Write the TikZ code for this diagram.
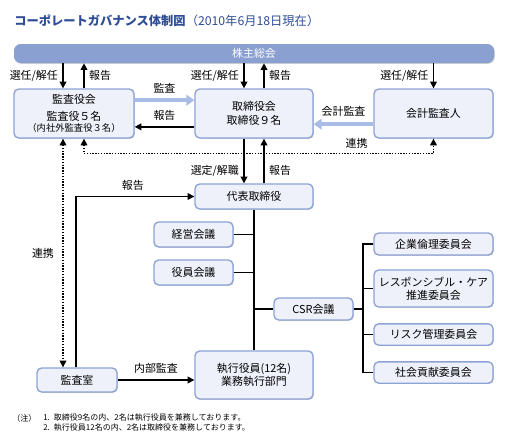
\documentclass[tikz,border=0pt]{standalone}
\usepackage{fontspec}
\setmainfont{Noto Sans CJK JP}
\usetikzlibrary{arrows.meta,shadows}
\definecolor{titleblue}{HTML}{2E4D96}
\definecolor{barblue}{HTML}{8AA0D0}
\definecolor{boxline}{HTML}{8CA2D6}
\definecolor{boxfill}{HTML}{EEF1FA}
\definecolor{auditblue}{HTML}{A8BCE4}
\tikzset{
  box/.style={draw=boxline,fill=boxfill,line width=1pt,rounded corners=3.5pt,align=center,
    drop shadow={shadow xshift=0.6pt,shadow yshift=-0.6pt,opacity=0.3,fill=black!60}},
  conn/.style={line width=1.1pt},
  audit/.style={-{Triangle[length=6pt,width=8pt]},draw=auditblue,line width=2.6pt},
  lk/.style={<->,line width=1pt,dash pattern=on 1pt off 1.1pt},
}
\begin{document}
\begin{tikzpicture}[x=0.75pt,y=-0.75pt,>={Triangle[length=5pt,width=5pt]},font=\fontsize{8.2}{10}\selectfont]
\useasboundingbox (0,0) rectangle (512,440);
% title
\node[anchor=west,inner sep=0pt,text=titleblue,font=\fontsize{9.2}{11}\selectfont] (title) at (14,21)
  {\textbf{コーポレートガバナンス体制図}（2010年6月18日現在）};
\node[fill=barblue,rounded corners=5pt,minimum width=360pt,minimum height=14.25pt,text=white,
  drop shadow={shadow xshift=0.6pt,shadow yshift=-0.6pt,opacity=0.3,fill=black!60}] (kabunushi) at (254,53.5) {株主総会};
% boxes
\node[box,minimum width=90pt,minimum height=36.75pt] (kansa) at (74,113.5)
  {監査役会\\[2.75pt]監査役５名\\[-1.75pt]{\fontsize{7}{8}\selectfont （内社外監査役３名）}};
\node[box,minimum width=88.5pt,minimum height=36.75pt] (tori) at (254,113.5) {取締役会\\取締役９名};
\node[box,minimum width=89.25pt,minimum height=36.75pt] (kaikei) at (433.5,113.5) {会計監査人};
\node[box,minimum width=88.5pt,minimum height=18.75pt] (daihyo) at (254,196.5) {代表取締役};
\node[box,minimum width=59.25pt,minimum height=18.75pt] (keiei) at (193.5,234.5) {経営会議};
\node[box,minimum width=59.25pt,minimum height=18.75pt] (yakuin) at (193.5,272.5) {役員会議};
\node[box,minimum width=59.25pt,minimum height=16.5pt] (csr) at (313.5,309) {CSR会議};
\node[box,minimum width=89.25pt,minimum height=16.5pt] (kigyo) at (433.5,244) {企業倫理委員会};
\node[box,minimum width=89.25pt,minimum height=27.75pt,inner xsep=2pt] (rc) at (433.5,288.5) {レスポンシブル・ケア\\推進委員会};
\node[box,minimum width=89.25pt,minimum height=16pt] (risk) at (433.5,334.5) {リスク管理委員会};
\node[box,minimum width=89.25pt,minimum height=16pt] (shakai) at (433.5,372.5) {社会貢献委員会};
\node[box,minimum width=60pt,minimum height=18pt] (kansashitsu) at (77,380) {監査室};
\node[box,minimum width=88.5pt,minimum height=36pt] (shikko) at (254,375) {執行役員(12名)\\業務執行部門};
% notes
\node[anchor=west,inner sep=0pt,font=\fontsize{6}{7.5}\selectfont] (nmark) at (12,418) {（注）};
\node[anchor=west,inner sep=0pt,font=\fontsize{6}{7.5}\selectfont] (note1) at (43,418) {1.\enspace 取締役9名の内、2名は執行役員を兼務しております。};
\node[anchor=west,inner sep=0pt,font=\fontsize{6}{7.5}\selectfont] (note2) at (43,428) {2.\enspace 執行役員12名の内、2名は取締役を兼務しております。};
% connectors
\coordinate (kd) at ([xshift=-8.25pt]kansa.north);
\coordinate (ku) at ([xshift=7.5pt]kansa.north);
\coordinate (td) at ([xshift=-7.5pt]tori.north);
\coordinate (tu) at ([xshift=7.5pt]tori.north);
\draw[conn,->] (kabunushi.south -| kd) -- (kd) node[midway,left] {選任/解任};
\draw[conn,->] (ku) -- (kabunushi.south -| ku) node[midway,right] {報告};
\draw[conn,->] (kabunushi.south -| td) -- (td) node[midway,left] {選任/解任};
\draw[conn,->] (tu) -- (kabunushi.south -| tu) node[midway,right] {報告};
\draw[conn,->] (kabunushi.south -| kaikei.north) -- (kaikei.north) node[midway,left] {選任/解任};
\coordinate (ka) at ([yshift=10pt]kansa.east);
\coordinate (kb) at ([yshift=-10pt]kansa.east);
\coordinate (kc) at ([yshift=-8pt]kaikei.west);
\draw[audit] (ka) -- (ka -| tori.west) node[midway,above=1pt,black] {監査};
\draw[conn,->] (kb -| tori.west) -- (kb) node[midway,above=1pt] {報告};
\draw[audit] (kc) -- (kc -| tori.east) node[midway,above=1pt,black] {会計監査};
\draw[lk] (kansa.south -| ku) -- ++(0,-11pt) -| node[pos=0.39,above] {連携} (kaikei.south);
\draw[lk] (kansa.south -| kd) -- (kansashitsu.north -| kd) node[midway,left=3pt] {連携};
\draw[conn,->] (tori.south -| td) -- (daihyo.north -| td) node[pos=0.72,left] {選定/解職};
\draw[conn,->] (daihyo.north -| tu) -- (tori.south -| tu) node[pos=0.28,right] {報告};
\draw[conn,->] ([xshift=-0.75pt]kansashitsu.north) |- (daihyo.west) node[pos=0.74,above=1pt] {報告};
\draw[conn] (daihyo.south) -- (shikko.north);
\draw[conn] (keiei.east) -- (keiei.east -| daihyo.south);
\draw[conn] (yakuin.east) -- (yakuin.east -| daihyo.south);
\draw[conn] (csr.west -| daihyo.south) -- (csr.west);
\coordinate (bus) at (363,309);
\draw[conn] (csr.east) -- (bus);
\draw[conn] (kigyo.west) -| (bus |- shakai.west) -- (shakai.west);
\draw[conn] (bus |- rc.west) -- (rc.west);
\draw[conn] (bus |- risk.west) -- (risk.west);
\draw[conn,->] (kansashitsu.east) -- (kansashitsu.east -| shikko.west) node[midway,above=1pt] {内部監査};
\end{tikzpicture}
\end{document}
